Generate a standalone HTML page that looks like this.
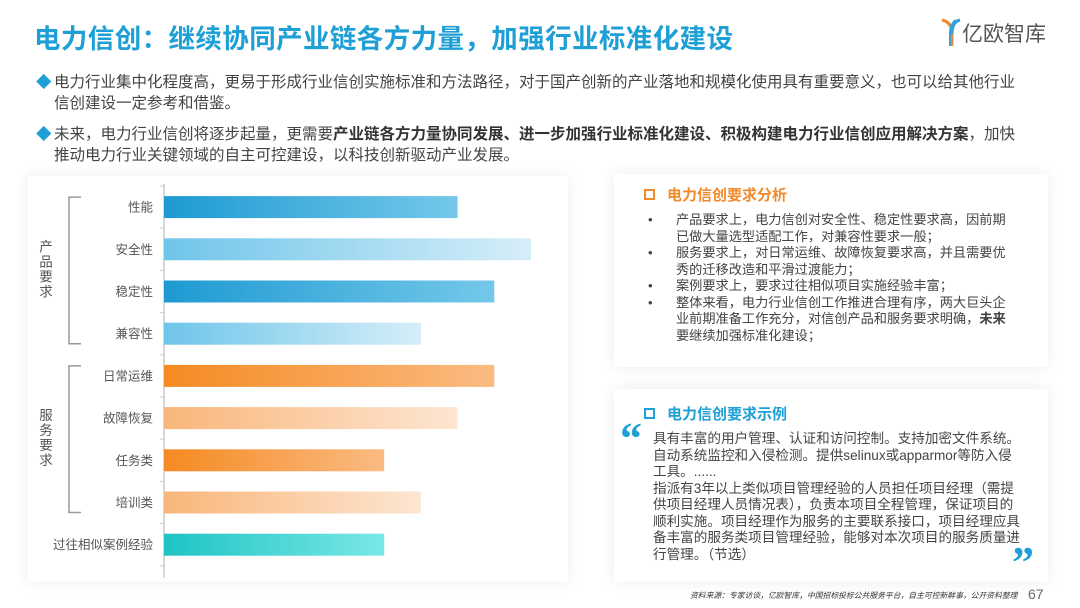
<!DOCTYPE html>
<html><head><meta charset="utf-8">
<style>
*{margin:0;padding:0;box-sizing:border-box}
body{width:1080px;height:608px;background:#fff;position:relative;overflow:hidden;font-family:"Liberation Sans","Noto Sans CJK SC",sans-serif;color:#444}
.abs{position:absolute}
.title{left:34px;top:17px;font-size:26.5px;font-weight:bold;color:#1e9fd6;letter-spacing:0.4px}
.para{left:36px;font-size:15.5px;line-height:21px;color:#444;width:1030px}
.para .d{color:#1e9fd6;position:absolute;left:0;top:0}
.para .t{padding-left:18px;display:block;width:1030px;white-space:nowrap}
.card{background:#fff;box-shadow:0 0 14px rgba(0,0,0,0.08)}
.rt{font-size:13.2px;line-height:16.5px;color:#444}
</style></head><body>
<div class="abs title">电力信创：继续协同产业链各方力量，加强行业标准化建设</div>
<div class="abs" style="left:940px;top:16px;width:120px;height:32px">
<svg width="22" height="32" style="position:absolute;left:0;top:0"><path d="M2 4 Q12 6 12 18 L12 30" stroke="#f08a2c" stroke-width="3" fill="none"/><path d="M20 4 Q12 6 12 18" stroke="#2fa4da" stroke-width="3" fill="none"/><path d="M16 4 Q10 8 10 18 L10 30" stroke="#2fa4da" stroke-width="2" fill="none"/></svg>
<span style="position:absolute;left:22px;top:2px;font-size:21px;color:#555">亿欧智库</span></div>
<div class="abs para" style="top:72px"><span class="d">◆</span><span class="t">电力行业集中化程度高，更易于形成行业信创实施标准和方法路径，对于国产创新的产业落地和规模化使用具有重要意义，也可以给其他行业<br>信创建设一定参考和借鉴。</span></div>
<div class="abs para" style="top:124px"><span class="d">◆</span><span class="t">未来，电力行业信创将逐步起量，更需要<b style="color:#333">产业链各方力量协同发展、进一步加强行业标准化建设、积极构建电力行业信创应用解决方案</b>，加快<br>推动电力行业关键领域的自主可控建设，以科技创新驱动产业发展。</span></div>

<div class="abs card" style="left:28px;top:176px;width:540px;height:406px"></div>
<svg class="abs" style="left:0;top:0" width="600" height="608" id="chart">
<defs>
<linearGradient id="gB1"><stop offset="0" stop-color="#1e9ad2"/><stop offset="1" stop-color="#74c8ea"/></linearGradient>
<linearGradient id="gB2"><stop offset="0" stop-color="#6fc5ea"/><stop offset="1" stop-color="#d6eef8"/></linearGradient>
<linearGradient id="gO1"><stop offset="0" stop-color="#f58a22"/><stop offset="1" stop-color="#fabb82"/></linearGradient>
<linearGradient id="gO2"><stop offset="0" stop-color="#f9b67a"/><stop offset="1" stop-color="#fde6d2"/></linearGradient>
<linearGradient id="gT"><stop offset="0" stop-color="#1fc3c3"/><stop offset="1" stop-color="#7ae8e8"/></linearGradient>
</defs>
</svg>

<div class="abs card" style="left:614px;top:174px;width:434px;height:193px">
<div class="abs" style="left:30px;top:10px;font-size:15px;font-weight:bold;color:#f08a2c"><span style="display:inline-block;width:11px;height:11px;border:2px solid #f08a2c;margin-right:12px"></span>电力信创要求分析</div>
<div class="abs rt" style="left:34px;top:38px;width:363px">
<div style="position:relative;padding-left:28px"><span style="position:absolute;left:0">•</span>产品要求上，电力信创对安全性、稳定性要求高，因前期已做大量选型适配工作，对兼容性要求一般；</div>
<div style="position:relative;padding-left:28px"><span style="position:absolute;left:0">•</span>服务要求上，对日常运维、故障恢复要求高，并且需要优秀的迁移改造和平滑过渡能力；</div>
<div style="position:relative;padding-left:28px"><span style="position:absolute;left:0">•</span>案例要求上，要求过往相似项目实施经验丰富；</div>
<div style="position:relative;padding-left:28px"><span style="position:absolute;left:0">•</span>整体来看，电力行业信创工作推进合理有序，两大巨头企业前期准备工作充分，对信创产品和服务要求明确，<b>未来</b>要继续加强标准化建设；</div>
</div></div>

<div class="abs card" style="left:614px;top:389px;width:434px;height:193px">
<div class="abs" style="left:30px;top:14px;font-size:15px;font-weight:bold;color:#1e9fd6"><span style="display:inline-block;width:11px;height:11px;border:2px solid #1e9fd6;margin-right:12px"></span>电力信创要求示例</div>
<div class="abs" style="left:6px;top:24px;font-size:44px;font-weight:bold;color:#1e9fd6;font-family:'Liberation Serif',serif">“</div>
<div class="abs" style="left:398px;top:148px;font-size:44px;font-weight:bold;color:#1e9fd6;font-family:'Liberation Serif',serif">”</div>
<div class="abs" style="left:39px;top:42px;width:372px;font-size:13.6px;line-height:16.5px;color:#444">具有丰富的用户管理、认证和访问控制。支持加密文件系统。自动系统监控和入侵检测。提供selinux或apparmor等防入侵工具。......<br>指派有3年以上类似项目管理经验的人员担任项目经理（需提供项目经理人员情况表），负责本项目全程管理，保证项目的顺利实施。项目经理作为服务的主要联系接口，项目经理应具备丰富的服务类项目管理经验，能够对本次项目的服务质量进行管理。（节选）</div>
</div>
<div class="abs" style="left:690px;top:590px;font-size:7.8px;font-style:italic;color:#333;white-space:nowrap">资料来源：专家访谈，亿欧智库，中国招标投标公共服务平台，自主可控新鲜事，公开资料整理</div>
<div class="abs" style="left:1028px;top:586px;font-size:14px;color:#666">67</div>

<script>
const categories=["性能","安全性","稳定性","兼容性","日常运维","故障恢复","任务类","培训类","过往相似案例经验"];
const values=[4,5,4.5,3.5,4.5,4,3,3.5,3];
const fills=["gB1","gB2","gB1","gB2","gO1","gO2","gO1","gO2","gT"];
const groups=[{label:"产品要求",from:0,to:3},{label:"服务要求",from:4,to:7}];
const svg=document.getElementById('chart');
const NS='http://www.w3.org/2000/svg';
const x0=164,unit=73.4,y0=186,step=42.2,bh=22;
const xs=v=>x0+v*unit;
const yc=i=>y0+step*i+step/2;
function mk(t,a){const e=document.createElementNS(NS,t);for(const k in a)e.setAttribute(k,a[k]);svg.appendChild(e);return e;}
let ax=mk('line',{x1:x0,y1:y0-2,x2:x0,y2:y0+step*9+12,stroke:'#ccc','stroke-width':1.5});


for(let i=0;i<=9;i++){let t=mk('line',{x1:x0-4,y1:y0+step*i,x2:x0,y2:y0+step*i,stroke:'#ccc'});

}
categories.forEach((c,i)=>{
 const r=mk('rect',{x:x0,y:yc(i)-bh/2,width:xs(values[i])-x0,height:bh,fill:'url(#'+fills[i]+')'});
 
 
 const t=mk('text',{x:x0-11,y:yc(i)+4.5,'text-anchor':'end','font-size':12.5,fill:'#555'});
 t.textContent=c;
 
 
});
groups.forEach(g=>{
 const ya=yc(g.from)-10,yb=yc(g.to)+10;
 const p=mk('path',{d:`M81 ${ya} L69 ${ya} L69 ${yb} L81 ${yb}`,stroke:'#999','stroke-width':1.5,fill:'none'});
 
 
 const mid=(ya+yb)/2;
 [...g.label].forEach((ch,k)=>{
  const t=mk('text',{x:46,y:mid-24+k*15+5,'text-anchor':'middle','font-size':13.5,fill:'#555'});
  t.textContent=ch;
  
  
 });
});
</script>
</body></html>
